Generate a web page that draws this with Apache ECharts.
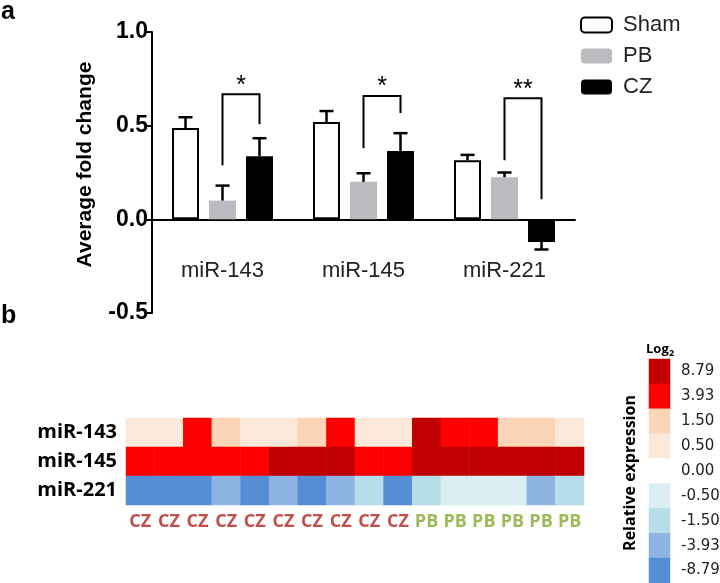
<!DOCTYPE html>
<html><head><meta charset="utf-8">
<script src="https://cdn.jsdelivr.net/npm/echarts@6/dist/echarts.min.js"></script>
<style>html,body{margin:0;padding:0;background:#fff}#c{width:720px;height:583px}</style>
</head><body><div id="c"></div>
<script>
// ---- Panel a: bar chart data ----
const groups = ['miR-143', 'miR-145', 'miR-221'];
const seriesNames = ['Sham', 'PB', 'CZ'];
const shamMean = [0.487, 0.52, 0.316];
const shamErr = [0.058, 0.058, 0.028];
const pbMean = [0.10, 0.20, 0.225];
const pbErr = [0.08, 0.046, 0.025];
const czMean = [0.337, 0.365, -0.121];
const czErr = [0.096, 0.095, 0.04];
// significance brackets (PB vs CZ)
const sigLabels = ['*', '*', '**'];
const sigTop = [0.668, 0.658, 0.647];
const sigLeftEnd = [0.289, 0.38, 0.316];
const sigRightEnd = [0.508, 0.567, 0.107];

// ---- Panel b: heatmap data (log2 relative expression levels) ----
const heatRows = ['miR-143', 'miR-145', 'miR-221'];
const samples = ['CZ','CZ','CZ','CZ','CZ','CZ','CZ','CZ','CZ','CZ','PB','PB','PB','PB','PB','PB'];
const expr143 = [0.5, 0.5, 3.93, 1.5, 0.5, 0.5, 1.5, 3.93, 0.5, 0.5, 8.79, 3.93, 3.93, 1.5, 1.5, 0.5];
const expr145 = [3.93, 3.93, 3.93, 3.93, 3.93, 8.79, 8.79, 8.79, 3.93, 3.93, 8.79, 8.79, 8.79, 8.79, 8.79, 8.79];
const expr221 = [-8.79, -8.79, -8.79, -3.93, -8.79, -3.93, -8.79, -3.93, -1.5, -8.79, -1.5, -0.5, -0.5, -0.5, -3.93, -1.5];
const levels = [8.79, 3.93, 1.5, 0.5, 0, -0.5, -1.5, -3.93, -8.79];
const levelLabels = ['8.79', '3.93', '1.50', '0.50', '0.00', '-0.50', '-1.50', '-3.93', '-8.79'];

// ---- styles ----
const levelColors = ['#C00000', '#FF0000', '#FBD5B5', '#FDE9D9', '#FFFFFF', '#DAEEF3', '#B7DEE8', '#8DB4E2', '#558ED5'];
const BAR_W = 27, BAR_GAP = 10;
const AR = 'Liberation Sans';
const CAL = 'Open Sans';

const chart = echarts.init(document.getElementById('c'));

function errData(means, errs, s) {
  return means.map((m, i) => [i, m, errs[i], s]);
}
const allErr = [].concat(errData(shamMean, shamErr, 0), errData(pbMean, pbErr, 1), errData(czMean, czErr, 2));
const sigData = groups.map((g, i) => [i, sigTop[i], sigLeftEnd[i], sigRightEnd[i]]);

function renderErr(params, api) {
  const g = api.value(0), m = api.value(1), e = api.value(2), s = api.value(3);
  const off = (s - 1) * (BAR_W + BAR_GAP);
  const p0 = api.coord([g, m]);
  const p1 = api.coord([g, m >= 0 ? m + e : m - e]);
  const x = p0[0] + off;
  return { type: 'group', children: [
    { type: 'line', shape: { x1: x, y1: p0[1], x2: x, y2: p1[1] }, style: { stroke: '#000', lineWidth: 2.5 } },
    { type: 'line', shape: { x1: x - 7, y1: p1[1], x2: x + 7, y2: p1[1] }, style: { stroke: '#000', lineWidth: 2.5 } }
  ]};
}
function renderSig(params, api) {
  const g = api.value(0);
  const c = api.coord([g, api.value(1)]);
  const yl = api.coord([g, api.value(2)])[1];
  const yr = api.coord([g, api.value(3)])[1];
  const xl = c[0], xr = c[0] + BAR_W + BAR_GAP;
  return { type: 'group', children: [
    { type: 'polyline', shape: { points: [[xl, yl], [xl, c[1]], [xr, c[1]], [xr, yr]] }, style: { stroke: '#000', lineWidth: 2, fill: null } },
    { type: 'text', x: (xl + xr) / 2, y: c[1] + 4, style: { text: sigLabels[params.dataIndex], fontSize: 25, fontFamily: AR, fill: '#000', align: 'center', verticalAlign: 'bottom' } }
  ]};
}

const heatData = [];
[expr143, expr145, expr221].forEach((row, r) => row.forEach((v, c) => heatData.push([c, r, v])));
const legendData = levels.map((v, i) => [0, i, v]);

chart.setOption({
  animation: false,
  backgroundColor: '#fff',
  grid: [
    { left: 152, top: 32, width: 423, height: 281, outerBoundsMode: 'none', containLabel: false },
    { left: 126, top: 418, width: 458, height: 87, outerBoundsMode: 'none', containLabel: false },
    { left: 649, top: 359, width: 21, height: 224, outerBoundsMode: 'none', containLabel: false }
  ],
  legend: {
    data: seriesNames, orient: 'vertical', left: 575, top: 9,
    icon: 'roundRect', itemWidth: 31, itemHeight: 15, itemGap: 9,
    textStyle: { fontSize: 22, fontFamily: AR, color: '#222', padding: [0, 0, 0, 6] }
  },
  xAxis: [
    { gridIndex: 0, type: 'category', data: groups,
      axisLine: { onZero: true, lineStyle: { color: '#000', width: 2 } },
      axisTick: { show: false },
      axisLabel: { fontSize: 22, fontFamily: AR, color: '#222', margin: -53 } },
    { gridIndex: 1, type: 'category', data: samples,
      axisLine: { show: false }, axisTick: { show: false },
      axisLabel: { interval: 0, margin: 8, fontSize: 18, fontWeight: 'bold', fontFamily: CAL,
        color: (v) => v === 'CZ' ? '#C0504D' : '#9BBB59' } },
    { gridIndex: 2, type: 'category', data: ['L'], show: false }
  ],
  yAxis: [
    { gridIndex: 0, type: 'value', min: -0.5, max: 1.0, interval: 0.5,
      name: 'Average fold change', nameLocation: 'middle', nameGap: 56,
      nameTextStyle: { fontSize: 21, fontWeight: 'bold', fontFamily: AR, color: '#000', padding: [0, 0, 0, 16] },
      axisLine: { show: true, lineStyle: { color: '#000', width: 2 } },
      axisTick: { show: true, length: 6, lineStyle: { color: '#000', width: 2 } },
      splitLine: { show: false },
      axisLabel: { fontSize: 23, fontWeight: 'bold', fontFamily: AR, color: '#000', margin: 4,
        formatter: (v) => v.toFixed(1) } },
    { gridIndex: 1, type: 'category', data: heatRows, inverse: true,
      axisLine: { show: false }, axisTick: { show: false },
      axisLabel: { margin: 9, fontSize: 20, fontWeight: 'bold', fontFamily: CAL, color: '#000' } },
    { gridIndex: 2, type: 'category', data: levelLabels, inverse: true, position: 'right',
      axisLine: { show: false }, axisTick: { show: false },
      axisLabel: { margin: 11, fontSize: 15, fontFamily: 'DejaVu Sans', color: '#222', align: 'left' } }
  ],
  visualMap: {
    type: 'piecewise', show: false, dimension: 2, seriesIndex: [5, 6],
    pieces: levels.map((v, i) => ({ value: v, color: levelColors[i] }))
  },
  graphic: [
    { type: 'text', left: 1, top: 0, style: { text: 'a', fontSize: 25, fontWeight: 'bold', fontFamily: AR, fill: '#000' } },
    { type: 'text', left: 1, top: 304, style: { text: 'b', fontSize: 25, fontWeight: 'bold', fontFamily: AR, fill: '#000' } },
    { type: 'text', x: 646, y: 343, style: { text: 'Log', fontSize: 13, fontWeight: 'bold', fontFamily: CAL, fill: '#000' } },
    { type: 'text', x: 669, y: 349, style: { text: '2', fontSize: 9, fontWeight: 'bold', fontFamily: CAL, fill: '#000' } },
    { type: 'text', x: 630, y: 473, rotation: Math.PI / 2,
      style: { text: 'Relative expression', fontSize: 16, fontWeight: 'bold', fontFamily: CAL, fill: '#000', align: 'center', verticalAlign: 'middle' } }
  ],
  series: [
    { name: 'Sham', type: 'bar', xAxisIndex: 0, yAxisIndex: 0, data: shamMean, barWidth: BAR_W, barGap: (BAR_GAP / BAR_W * 100) + '%',
      itemStyle: { color: '#fff', borderColor: '#000', borderWidth: 2 } },
    { name: 'PB', type: 'bar', xAxisIndex: 0, yAxisIndex: 0, data: pbMean, barWidth: BAR_W,
      itemStyle: { color: '#BCBCC0' } },
    { name: 'CZ', type: 'bar', xAxisIndex: 0, yAxisIndex: 0, data: czMean, barWidth: BAR_W,
      itemStyle: { color: '#000' } },
    { type: 'custom', xAxisIndex: 0, yAxisIndex: 0, data: allErr, renderItem: renderErr, encode: { x: 0, y: 1 }, z: 3, silent: true },
    { type: 'custom', xAxisIndex: 0, yAxisIndex: 0, data: sigData, renderItem: renderSig, encode: { x: 0, y: 1 }, z: 3, silent: true },
    { type: 'heatmap', xAxisIndex: 1, yAxisIndex: 1, data: heatData },
    { type: 'heatmap', xAxisIndex: 2, yAxisIndex: 2, data: legendData }
  ]
});
</script></body></html>
